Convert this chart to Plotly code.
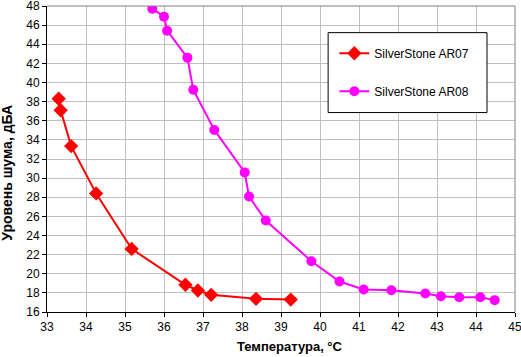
import plotly.graph_objects as go

ar07_x = [33.30, 33.35, 33.62, 34.26, 35.17, 36.55, 36.87, 37.21, 38.36, 39.25]
ar07_y = [38.3, 37.1, 33.35, 28.4, 22.6, 18.85, 18.25, 17.8, 17.38, 17.3]

ar08_x = [35.70, 36.00, 36.08, 36.60, 36.75, 37.29, 38.07, 38.18, 38.61, 39.78,
          40.50, 41.12, 41.83, 42.70, 43.10, 43.57, 44.11, 44.48]
ar08_y = [47.72, 46.88, 45.42, 42.6, 39.25, 35.04, 30.6, 28.07, 25.57, 21.31,
          19.19, 18.35, 18.28, 17.94, 17.65, 17.55, 17.55, 17.24]

x_ticks = list(range(33, 46))
y_ticks = list(range(16, 49, 2))

x_title = "Температура, °C"
y_title = "Уровень шума, дБА"

FONT = "Liberation Sans, Arial, sans-serif"

fig = go.Figure()
fig.add_trace(go.Scatter(
    x=ar07_x, y=ar07_y, mode="lines+markers", name="SilverStone AR07",
    legendgroup="a",
    line=dict(color="#ff0000", width=2),
    marker=dict(symbol="diamond", size=11, color="#ff0000"),
))
fig.add_trace(go.Scatter(
    x=ar08_x, y=ar08_y, mode="lines+markers", name="SilverStone AR08",
    legendgroup="b",
    line=dict(color="#ff00ff", width=2),
    marker=dict(symbol="circle", size=10, color="#ff00ff"),
))

fig.update_layout(
    width=521, height=357,
    margin=dict(l=47, r=6, t=6, b=45, autoexpand=False),
    paper_bgcolor="white", plot_bgcolor="white",
    font=dict(family=FONT, size=12, color="black"),
    showlegend=True,
    legend=dict(
        x=0.614, y=0.893, xanchor="left", yanchor="top",
        bgcolor="rgba(0,0,0,0)", borderwidth=0,
        font=dict(family=FONT, size=12, color="black"),
        tracegroupgap=19, itemwidth=30,
    ),
    xaxis=dict(
        range=[33, 45], tickvals=x_ticks, ticktext=[str(v) for v in x_ticks],
        showgrid=True, gridcolor="#c0c0c0", gridwidth=1,
        showline=True, linecolor="black", linewidth=1,
        ticks="outside", ticklen=4, tickcolor="black",
        zeroline=False, automargin=False, ticklabeloverflow="allow",
    ),
    yaxis=dict(
        range=[16, 48.001], tickvals=y_ticks, ticktext=[str(v) for v in y_ticks],
        showgrid=True, gridcolor="#c0c0c0", gridwidth=1,
        showline=True, linecolor="black", linewidth=1,
        ticks="outside", ticklen=4, tickcolor="black",
        zeroline=False, automargin=False, ticklabeloverflow="allow",
    ),
)

fig.add_annotation(text="<b>" + x_title + "</b>", xref="paper", yref="paper",
                   x=0.5195, y=-0.112, xanchor="center", yanchor="middle",
                   showarrow=False, font=dict(family=FONT, size=13, color="black"))
fig.add_annotation(text="<b>" + y_title + "</b>", xref="paper", yref="paper",
                   x=-0.0848, y=0.456, xanchor="center", yanchor="middle", textangle=-90,
                   showarrow=False, font=dict(family=FONT, size=14, color="black"))

fig.add_shape(type="line", xref="paper", yref="paper", x0=0, x1=1, y0=1, y1=1,
              line=dict(color="#808080", width=1))
fig.add_shape(type="line", xref="paper", yref="paper", x0=1, x1=1, y0=0, y1=1,
              line=dict(color="#808080", width=1))
# legend frame
fig.add_shape(type="rect", xref="paper", yref="paper", x0=0.6007, x1=0.9402, y0=0.6518, y1=0.9129,
              line=dict(color="black", width=1), fillcolor="white", layer="above")

fig.write_html("out.html", config={"displayModeBar": False},
               post_script="document.body.style.margin='0';document.body.style.overflow='hidden';")
